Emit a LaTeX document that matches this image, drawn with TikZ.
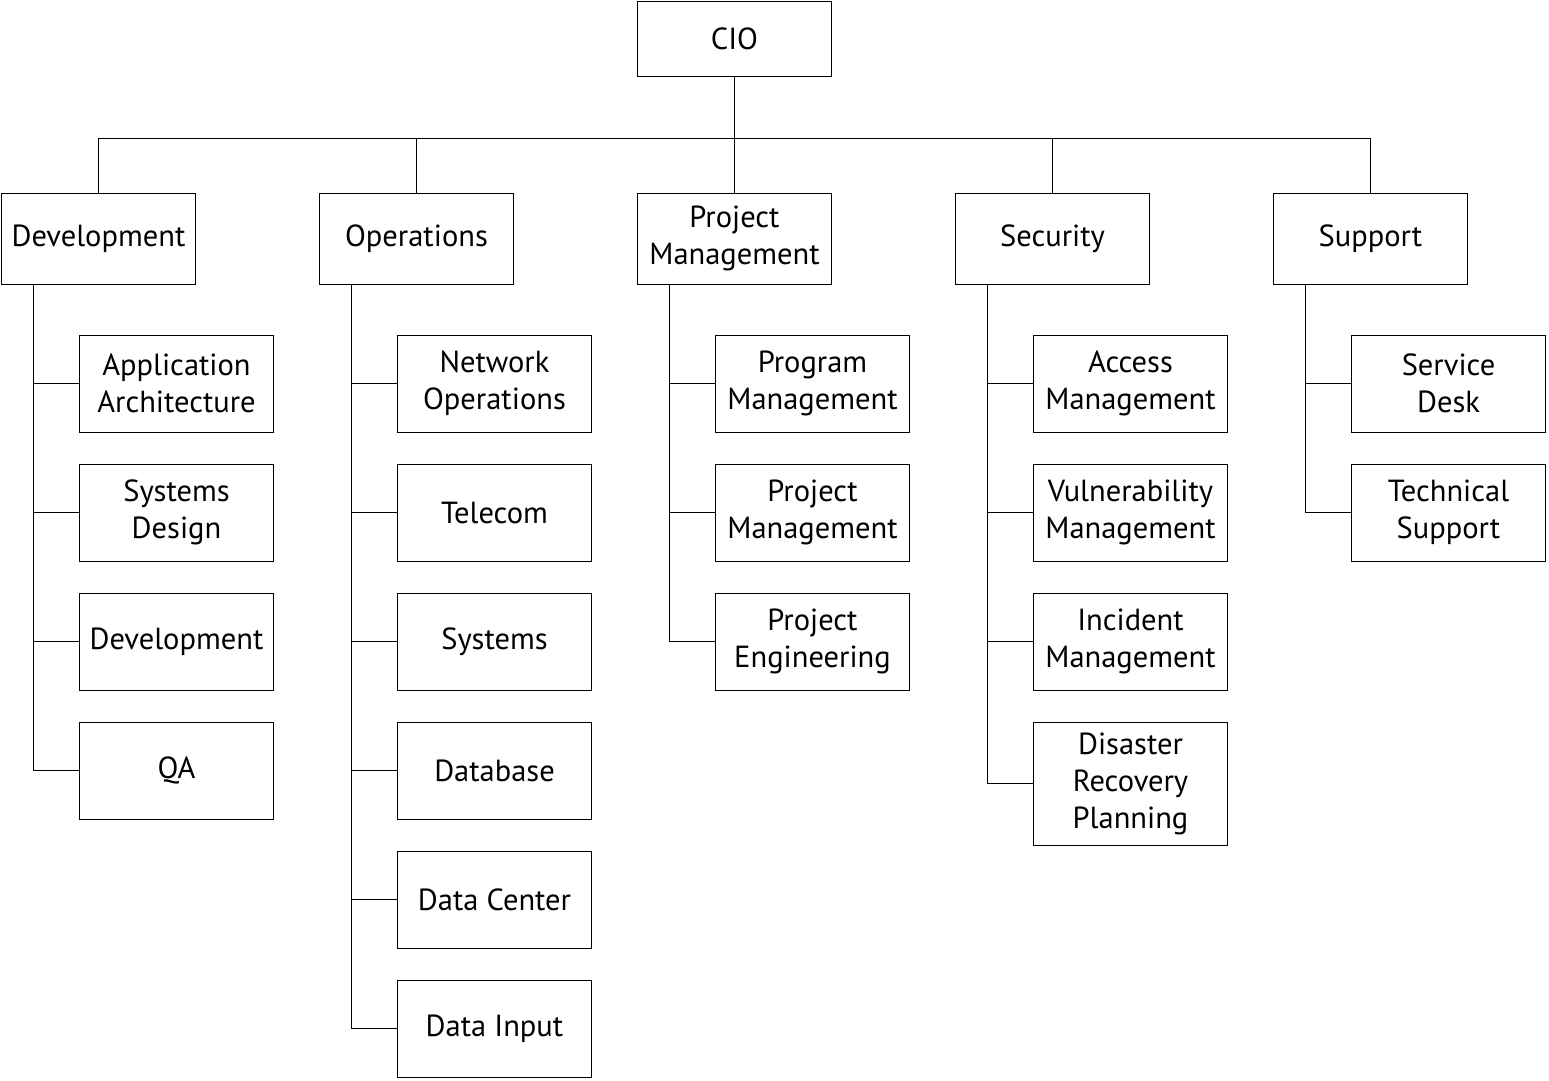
\documentclass[tikz,border=0pt]{standalone}
\usepackage{fontspec}
\setmainfont{PT Sans}
\usetikzlibrary{positioning}

\begin{document}
\begin{tikzpicture}[x=1pt, y=-1pt]
	\tikzset {line width=2pt, node distance=32pt,
		unit/.style={draw, outer sep=0pt, minimum width=194pt, minimum height=91pt, align=center, inner sep=2pt, font=\fontsize{30.5}{37}\selectfont},
		sub/.style={unit, minimum height=97pt} }
	\useasboundingbox (0,0) rectangle (1549,1080);

	\node[unit, minimum height=75pt] (cio) at (734.5,38.5) {CIO};
	\node[unit] (pm) at (734.5,238.5) {Project\\Management};
	\node[unit, left=124pt of pm] (ops) {Operations};
	\node[unit, left=124pt of ops] (dev) {Development};
	\node[unit, right=124pt of pm] (sec) {Security};
	\node[unit, right=124pt of sec] (sup) {Support};

	% development
	\node[sub, below=51pt of dev.south west, anchor=north west, xshift=78pt] (dev1) {Application\\Architecture};
	\node[sub, below=of dev1] (dev2) {Systems\\Design};
	\node[sub, below=of dev2] (dev3) {Development};
	\node[sub, below=of dev3] (dev4) {QA};

	% operations
	\node[sub, below=51pt of ops.south west, anchor=north west, xshift=78pt] (ops1) {Network\\Operations};
	\node[sub, below=of ops1] (ops2) {Telecom};
	\node[sub, below=of ops2] (ops3) {Systems};
	\node[sub, below=of ops3] (ops4) {Database};
	\node[sub, below=of ops4] (ops5) {Data Center};
	\node[sub, below=of ops5] (ops6) {Data Input};

	% project management
	\node[sub, below=51pt of pm.south west, anchor=north west, xshift=78pt] (pm1) {Program\\Management};
	\node[sub, below=of pm1] (pm2) {Project\\Management};
	\node[sub, below=of pm2] (pm3) {Project\\Engineering};

	% security
	\node[sub, below=51pt of sec.south west, anchor=north west, xshift=78pt] (sec1) {Access\\Management};
	\node[sub, below=of sec1] (sec2) {Vulnerability\\Management};
	\node[sub, below=of sec2] (sec3) {Incident\\Management};
	\node[sub, below=of sec3, minimum height=123pt] (sec4) {Disaster\\Recovery\\Planning};

	% support
	\node[sub, below=51pt of sup.south west, anchor=north west, xshift=78pt] (sup1) {Service\\Desk};
	\node[sub, below=of sup1] (sup2) {Technical\\Support};

	\foreach \n in {dev, ops, pm, sec, sup}
		\draw (cio.south) -- ++(0,62) -| (\n.north);

	\foreach \n/\k in {dev/4, ops/6, pm/3, sec/4, sup/2}
		\foreach \i in {1,...,\k}
			\draw ([xshift=32pt]\n.south west) |- (\n\i.west);
\end{tikzpicture}
\end{document}
